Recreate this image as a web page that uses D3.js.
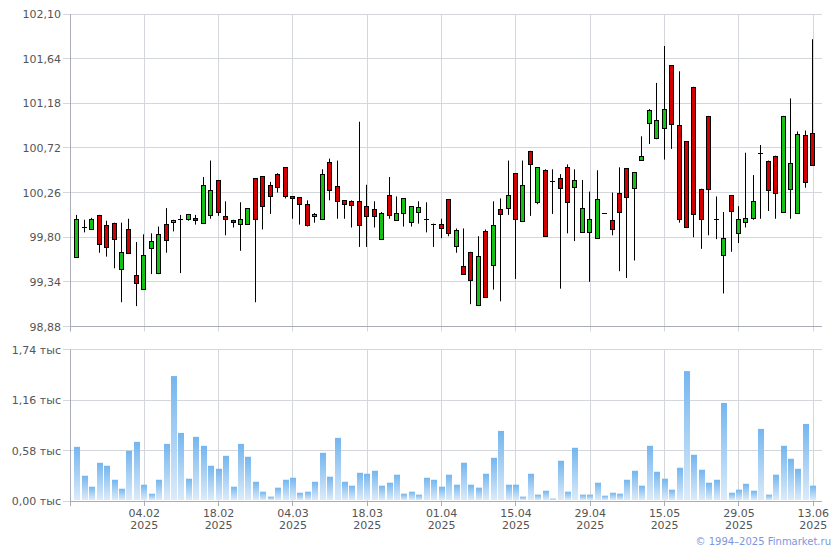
<!DOCTYPE html>
<html><head><meta charset="utf-8">
<script src="https://cdn.jsdelivr.net/npm/d3@7"></script>
<style>
html,body{margin:0;padding:0;background:#fff;}
svg{display:block;font-family:"DejaVu Sans",Verdana,sans-serif;}
</style></head>
<body><svg id="c" width="840" height="550"></svg>
<script>
const open  = [99.60,99.91,99.89,100.03,99.93,99.95,99.47,99.88,99.41,99.27,99.69,99.43,99.94,99.96,99.99,99.99,100.00,99.95,100.03,100.39,100.02,99.98,99.94,99.93,100.41,100.43,100.34,100.45,100.52,100.22,100.21,100.14,100.02,99.99,100.58,100.33,100.18,100.17,100.17,100.12,100.09,99.78,100.23,99.98,100.05,99.96,100.06,99.99,99.94,99.94,100.19,99.70,99.50,99.65,99.11,99.86,99.52,100.09,100.11,100.46,99.97,100.69,100.16,100.49,100.38,100.41,100.52,100.32,99.85,99.86,99.79,100.05,99.98,100.26,100.51,100.30,100.60,100.98,100.82,100.92,101.57,100.96,100.79,101.35,100.30,101.05,99.99,99.61,100.23,99.85,99.96,99.99,100.67,100.59,100.64,100.06,100.29,100.05,100.85,100.87];
const high  = [100.03,99.98,100.00,100.03,99.97,99.95,99.95,99.99,99.75,99.83,99.84,99.91,100.10,99.98,100.03,100.04,100.03,100.42,100.59,100.39,100.17,99.98,100.16,100.10,100.41,100.43,100.37,100.46,100.52,100.22,100.21,100.18,100.05,100.50,100.61,100.59,100.18,100.18,100.99,100.34,100.17,100.06,100.42,100.22,100.20,100.12,100.17,100.16,99.94,99.99,100.19,99.89,99.89,99.65,99.81,99.88,100.17,100.20,100.59,100.46,100.59,100.69,100.52,100.50,100.50,100.45,100.55,100.50,100.39,100.27,100.49,100.05,100.26,100.52,100.51,100.47,100.84,101.12,101.39,101.77,101.57,101.51,100.79,101.35,100.30,101.05,100.22,100.06,100.23,100.12,100.67,100.44,100.75,100.59,100.64,101.05,101.23,100.89,100.90,101.84];
const low   = [99.60,99.85,99.89,99.64,99.60,99.48,99.13,99.63,99.09,99.27,99.42,99.42,99.64,99.86,99.43,99.97,99.93,99.95,99.99,100.02,99.82,99.90,99.66,99.93,99.13,99.88,100.04,100.26,100.20,99.99,99.93,99.91,99.95,99.99,100.18,99.99,99.99,99.90,99.70,99.70,99.90,99.78,99.99,99.98,99.91,99.91,99.94,99.85,99.70,99.79,99.81,99.64,99.42,99.11,99.11,99.18,99.26,99.14,100.03,99.37,99.96,100.02,100.14,99.81,100.04,99.27,99.84,99.76,99.85,99.34,99.79,100.05,99.82,99.45,99.38,99.56,100.60,100.76,100.81,100.60,100.71,99.95,99.90,99.80,99.68,99.82,99.78,99.22,99.65,99.74,99.90,99.98,99.99,100.07,99.99,100.06,99.99,100.05,100.31,100.54];
const close = [99.99,99.91,99.99,99.73,99.70,99.79,99.65,99.63,99.33,99.62,99.76,99.83,99.78,99.98,99.99,100.04,99.98,100.34,100.29,100.06,99.99,99.96,99.99,100.10,99.99,100.12,100.23,100.32,100.22,100.20,100.14,99.92,100.04,100.45,100.29,100.18,100.14,100.13,99.92,100.02,100.02,100.05,100.02,100.05,100.20,100.12,100.11,99.99,99.94,99.90,99.84,99.87,99.42,99.36,99.61,99.18,99.93,100.04,100.24,99.99,100.34,100.56,100.52,99.81,100.38,100.31,100.16,100.39,100.10,99.99,100.19,100.05,99.89,100.06,100.21,100.47,100.64,101.11,101.01,101.12,100.96,99.99,99.90,100.04,99.99,100.30,99.99,99.79,100.07,99.99,100.00,100.17,100.67,100.29,100.26,101.05,100.56,100.86,100.37,100.54];
const volume = [0.622,0.290,0.164,0.439,0.405,0.244,0.141,0.576,0.679,0.187,0.084,0.244,0.656,1.435,0.782,0.256,0.737,0.634,0.405,0.370,0.519,0.164,0.656,0.508,0.221,0.107,0.050,0.153,0.244,0.267,0.095,0.107,0.221,0.553,0.279,0.725,0.221,0.176,0.324,0.313,0.347,0.176,0.210,0.302,0.084,0.107,0.073,0.267,0.244,0.164,0.302,0.187,0.439,0.187,0.153,0.313,0.496,0.805,0.187,0.187,0.050,0.313,0.073,0.118,0.027,0.462,0.107,0.611,0.073,0.073,0.210,0.061,0.095,0.084,0.244,0.347,0.176,0.634,0.336,0.256,0.130,0.382,1.492,0.531,0.359,0.210,0.244,1.126,0.095,0.130,0.198,0.118,0.828,0.073,0.302,0.634,0.485,0.370,0.885,0.176];
const xTickIndex = [9,19,29,39,49,59,69,79,89,99];
const xTickLabels = ["04.02","18.02","04.03","18.03","01.04","15.04","29.04","15.05","29.05","13.06"];
const xTickYear = "2025";
const priceTicks = [98.88,99.34,99.80,100.26,100.72,101.18,101.64,102.10];
const volumeTicks = [0,0.58,1.16,1.74];
const copyright = "© 1994–2025 Finmarket.ru";

const svg = d3.select("#c");
const L = 70.5, R = 822;
const P = {top:14, bottom:326.5};
const V = {top:349.5, bottom:501};
const gridC = "#d3d7db", axisC = "#a9acb8", textC = "#555555";

const x = d3.scaleLinear().domain([0,99]).range([77.4,813.3]);
const y = d3.scaleLinear().domain([98.88,102.10]).range([P.bottom,P.top]);
const yv = d3.scaleLinear().domain([0,1.74]).range([V.bottom,V.top]);
const fmtP = v => d3.format(".2f")(v).replace(".",",");
const fmtV = v => d3.format(".2f")(v).replace(".",",") + " тыс";
const px = v => Math.round(v)+0.5;

const defs = svg.append("defs");
const grad = defs.append("linearGradient").attr("id","vg").attr("x1",0).attr("y1",0).attr("x2",0).attr("y2",1);
grad.append("stop").attr("offset","0%").attr("stop-color","#74b6ef");
grad.append("stop").attr("offset","100%").attr("stop-color","#dcebf9");

function hgrid(scale, ticks, top, bottom){
  const g = svg.append("g");
  g.selectAll("line.h").data(ticks).join("line")
    .attr("x1",63).attr("x2",R).attr("y1",d=>px(scale(d)-0.5)).attr("y2",d=>px(scale(d)-0.5))
    .attr("stroke",gridC).attr("stroke-width",1);
  g.selectAll("line.v").data(xTickIndex).join("line")
    .attr("x1",d=>px(x(d)-0.5)).attr("x2",d=>px(x(d)-0.5)).attr("y1",top).attr("y2",bottom+5)
    .attr("stroke",gridC).attr("stroke-width",1);
}
hgrid(y, priceTicks, P.top, P.bottom);
hgrid(yv, volumeTicks, V.top, V.bottom);

svg.append("line").attr("x1",L).attr("x2",L).attr("y1",P.top).attr("y2",P.bottom+5).attr("stroke",axisC);
svg.append("line").attr("x1",L).attr("x2",R).attr("y1",px(P.bottom-0.5)).attr("y2",px(P.bottom-0.5)).attr("stroke",axisC);
svg.append("line").attr("x1",L).attr("x2",L).attr("y1",V.top).attr("y2",V.bottom+5).attr("stroke",axisC);
svg.append("line").attr("x1",L).attr("x2",R).attr("y1",px(V.bottom-0.5)).attr("y2",px(V.bottom-0.5)).attr("stroke",axisC);
svg.selectAll("line.xt").data(xTickIndex).join("line")
  .attr("x1",d=>px(x(d)-0.5)).attr("x2",d=>px(x(d)-0.5)).attr("y1",V.bottom).attr("y2",V.bottom+5).attr("stroke",axisC);

svg.append("g").selectAll("text").data(priceTicks).join("text")
  .attr("x",61).attr("y",d=>y(d)+4).attr("text-anchor","end")
  .attr("font-size",11).attr("fill",textC).text(fmtP);
svg.append("g").selectAll("text").data(volumeTicks).join("text")
  .attr("x",61).attr("y",d=>yv(d)+4).attr("text-anchor","end")
  .attr("font-size",11).attr("fill",textC).text(fmtV);

const xl = svg.append("g").selectAll("g").data(xTickIndex).join("g");
xl.append("text").attr("x",(d)=>x(d)).attr("y",517).attr("text-anchor","middle")
  .attr("font-size",11).attr("fill",textC).text((d,i)=>xTickLabels[i]);
xl.append("text").attr("x",(d)=>x(d)).attr("y",529).attr("text-anchor","middle")
  .attr("font-size",11).attr("fill",textC).text(xTickYear);

svg.append("g").selectAll("rect").data(volume).join("rect")
  .attr("x",(d,i)=>Math.round(x(i))-3).attr("width",6)
  .attr("y",d=>yv(d)).attr("height",d=>V.bottom-1-yv(d))
  .attr("fill","url(#vg)");

const idx = d3.range(open.length);
const cg = svg.append("g");
cg.selectAll("line.w").data(idx).join("line")
  .attr("x1",i=>Math.round(x(i))-0.5).attr("x2",i=>Math.round(x(i))-0.5)
  .attr("y1",i=>y(high[i])).attr("y2",i=>y(low[i]))
  .attr("stroke","#000").attr("stroke-width",1);
cg.selectAll("rect").data(idx.filter(i=>open[i]!==close[i])).join("rect")
  .attr("x",i=>Math.round(x(i))-2.5).attr("width",4)
  .attr("y",i=>Math.round(y(Math.max(open[i],close[i])))+0.5)
  .attr("height",i=>Math.max(1,Math.round(Math.abs(y(open[i])-y(close[i])))))
  .attr("fill",i=>close[i]>open[i]?"#14c214":"#d40000")
  .attr("stroke","#000").attr("stroke-width",1);
cg.selectAll("line.d").data(idx.filter(i=>open[i]===close[i])).join("line")
  .attr("x1",i=>Math.round(x(i))-3).attr("x2",i=>Math.round(x(i))+2)
  .attr("y1",i=>Math.round(y(open[i]))+0.5).attr("y2",i=>Math.round(y(open[i]))+0.5)
  .attr("stroke","#000").attr("stroke-width",1);

svg.append("text").attr("x",831).attr("y",545).attr("text-anchor","end")
  .attr("font-size",10).attr("fill","#7b96e0").text(copyright);
</script></body></html>
